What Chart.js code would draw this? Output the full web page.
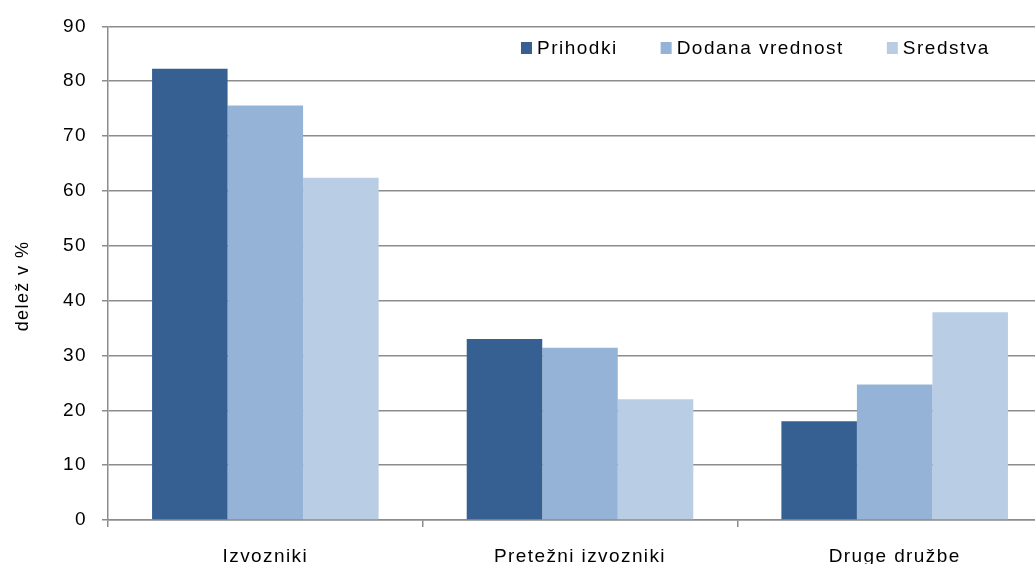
<!DOCTYPE html>
<html>
<head>
<meta charset="utf-8">
<script src="https://cdn.jsdelivr.net/npm/chart.js@4.4.1/dist/chart.umd.min.js"></script>
<style>
    html, body { margin: 0; padding: 0; background: #fff; overflow: hidden; }
    #wrap { width: 1035px; height: 564px; overflow: hidden; position: relative; }
</style>
</head>
<body>
<div id="wrap">
    <canvas id="barChart" width="1060" height="564"></canvas>
</div>
<script>
// chart data
const categories = ['Izvozniki', 'Pretežni izvozniki', 'Druge družbe'];
const prihodki = [82.3, 33.0, 18.0];
const dodanaVrednost = [75.6, 31.4, 24.7];
const sredstva = [62.4, 22.0, 37.9];
const seriesNames = ['Prihodki', 'Dodana vrednost', 'Sredstva'];
const yTicks = [0, 10, 20, 30, 40, 50, 60, 70, 80, 90];

const colors = ['#376092', '#95B3D7', '#B9CDE5'];
const gridColor = '#8c8c8c';
const fontFamily = '"Liberation Sans", Arial, sans-serif';

// Excel-like spaced text
const spacingPlugin = {
    id: 'spacing',
    beforeLayout(chart) { chart.ctx.letterSpacing = '1.4px'; },
    beforeDraw(chart) { chart.ctx.letterSpacing = '1.4px'; }
};

// legend inside the plot area, top right
const insideLegend = {
    id: 'insideLegend',
    afterDraw(chart) {
        const ctx = chart.ctx;
        ctx.save();
        ctx.letterSpacing = '1.5px';
        ctx.font = '19px ' + fontFamily;
        ctx.textBaseline = 'middle';
        ctx.textAlign = 'left';
        let x = 521;
        const y = 48;
        chart.data.datasets.forEach(function(ds) {
            ctx.fillStyle = ds.backgroundColor;
            ctx.fillRect(x, y - 6, 11, 12);
            x += 16;
            ctx.fillStyle = '#000';
            ctx.fillText(ds.label, x, y + 1);
            x += ctx.measureText(ds.label).width + 43;
        });
        ctx.restore();
    }
};

document.addEventListener('DOMContentLoaded', function() {
    const ctx = document.getElementById('barChart');

    new Chart(ctx.getContext('2d'), {
        type: 'bar',
        data: {
            labels: categories,
            datasets: [
                { label: seriesNames[0], data: prihodki, backgroundColor: colors[0] },
                { label: seriesNames[1], data: dodanaVrednost, backgroundColor: colors[1] },
                { label: seriesNames[2], data: sredstva, backgroundColor: colors[2] }
            ]
        },
        options: {
            responsive: false,
            animation: false,
            devicePixelRatio: 1,
            categoryPercentage: 0.72,
            barPercentage: 1,
            layout: {
                padding: { top: 24, right: 8, left: 0, bottom: 0 }
            },
            plugins: {
                legend: { display: false },
                tooltip: { enabled: false }
            },
            scales: {
                x: {
                    grid: {
                        drawOnChartArea: false,
                        drawTicks: true,
                        tickLength: 7,
                        color: gridColor,
                        lineWidth: 1.5
                    },
                    border: { color: gridColor, width: 1.5 },
                    ticks: {
                        color: '#000',
                        padding: 18,
                        font: { family: fontFamily, size: 19 }
                    },
                    afterFit: function(scale) { scale.height = 44; }
                },
                y: {
                    min: 0,
                    max: 90,
                    afterBuildTicks: function(scale) {
                        scale.ticks = yTicks.map(function(v) { return { value: v }; });
                    },
                    grid: {
                        color: gridColor,
                        lineWidth: 1.5,
                        tickLength: 6
                    },
                    border: { color: gridColor, width: 1.5 },
                    ticks: {
                        color: '#000',
                        padding: 15,
                        font: { family: fontFamily, size: 19 }
                    },
                    title: {
                        display: true,
                        // trailing spaces push the centred title down like in the original
                        text: 'delež v %    ',
                        color: '#000',
                        padding: { top: 12, bottom: 0 },
                        font: { family: fontFamily, size: 18 }
                    },
                    afterFit: function(scale) { scale.width = 108; }
                }
            }
        },
        plugins: [spacingPlugin, insideLegend]
    });
});
</script>
</body>
</html>
